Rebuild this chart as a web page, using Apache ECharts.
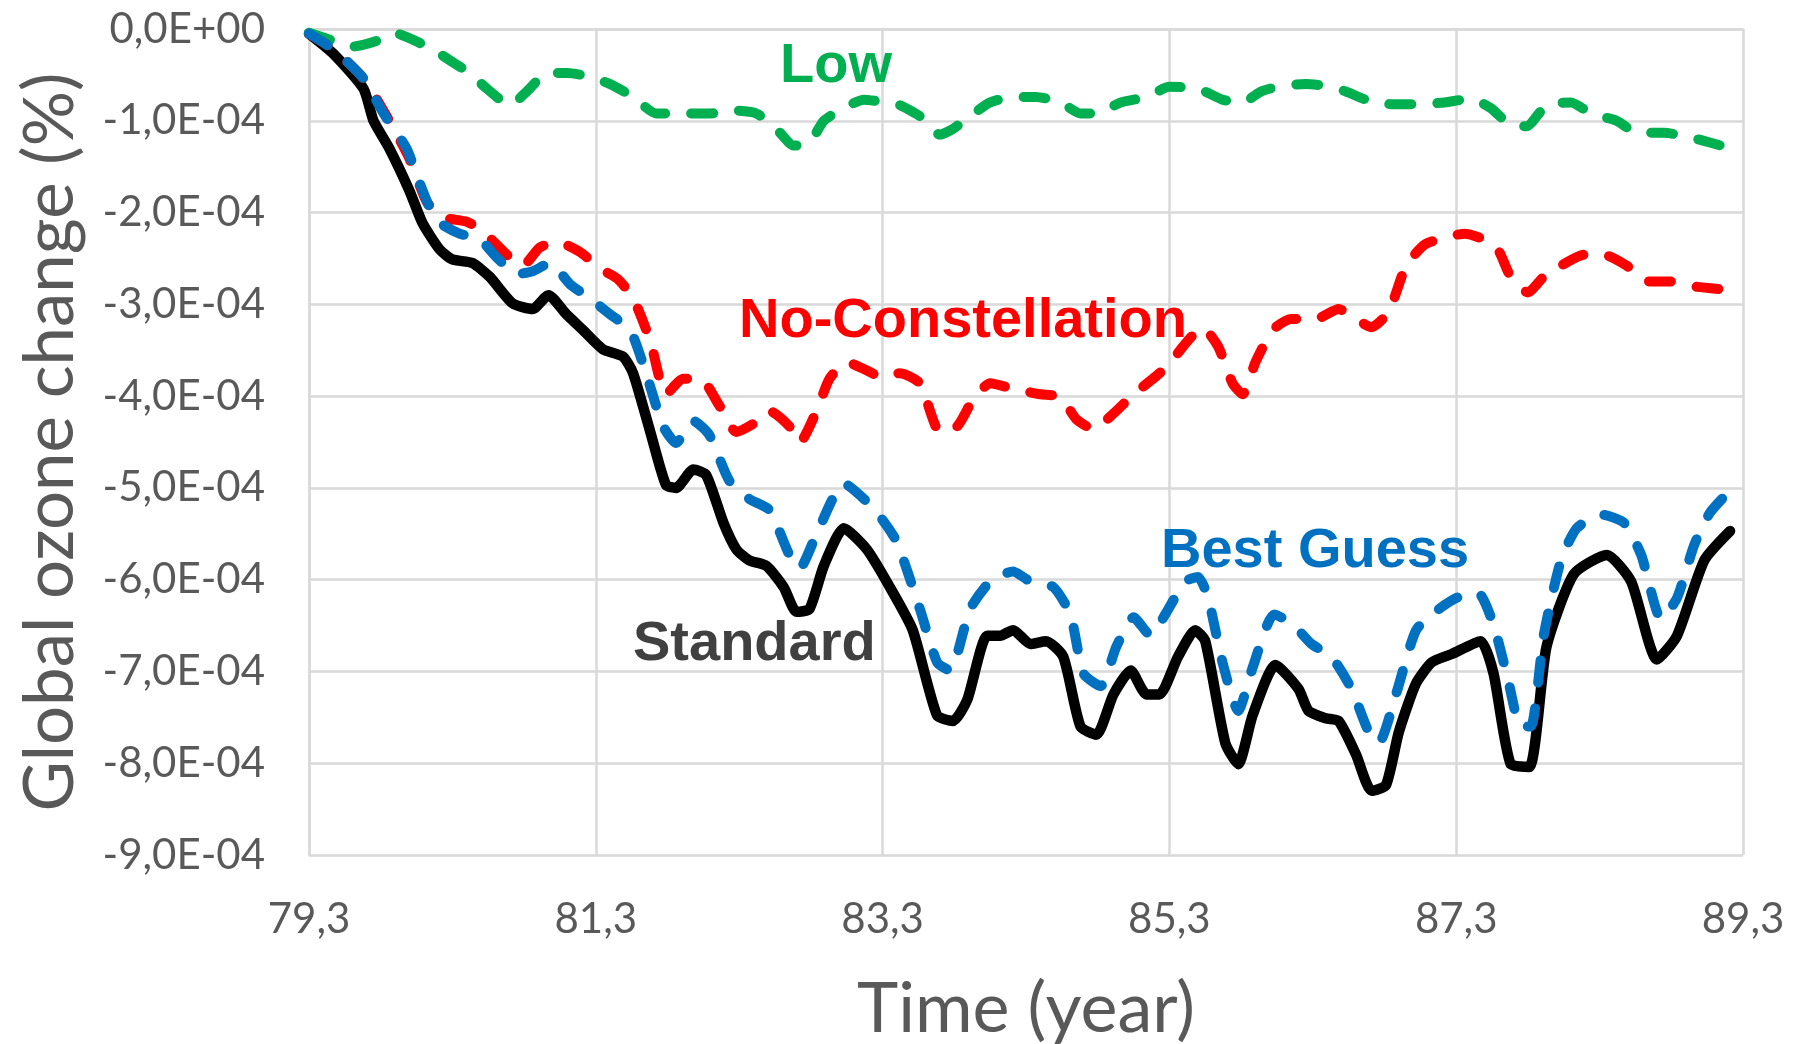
<!DOCTYPE html>
<html>
<head>
<meta charset="utf-8">
<script src="https://cdn.jsdelivr.net/npm/echarts@6/dist/echarts.min.js"></script>
<style>
html,body{margin:0;padding:0;background:#fff;}
#chart{width:1797px;height:1044px;}
</style>
</head>
<body>
<div id="chart"></div>
<script>
// ---- data (time in years, change in %) ----
const xTicks = [79.3, 81.3, 83.3, 85.3, 87.3, 89.3];

const standardT = [79.30,79.47,79.68,79.75,79.86,80.00,80.09,80.21,80.30,80.44,80.56,80.72,80.86,80.97,81.09,81.21,81.35,81.49,81.56,81.68,81.79,81.86,81.98,82.07,82.19,82.28,82.37,82.49,82.61,82.70,82.79,82.89,83.03,83.19,83.35,83.51,83.68,83.79,83.89,84.03,84.12,84.21,84.33,84.44,84.56,84.68,84.79,84.91,85.03,85.14,85.23,85.36,85.48,85.55,85.69,85.78,85.88,86.04,86.20,86.27,86.39,86.48,86.60,86.71,86.81,86.90,87.02,87.13,87.27,87.47,87.56,87.68,87.81,87.93,88.12,88.35,88.52,88.70,88.84,89.03,89.21];
const standardV = [-0.05e-4,-0.27e-4,-0.65e-4,-1.00e-4,-1.30e-4,-1.76e-4,-2.11e-4,-2.40e-4,-2.51e-4,-2.55e-4,-2.70e-4,-2.99e-4,-3.05e-4,-2.90e-4,-3.10e-4,-3.28e-4,-3.49e-4,-3.57e-4,-3.75e-4,-4.39e-4,-4.97e-4,-5.00e-4,-4.80e-4,-4.86e-4,-5.38e-4,-5.67e-4,-5.79e-4,-5.85e-4,-6.08e-4,-6.35e-4,-6.32e-4,-5.85e-4,-5.44e-4,-5.67e-4,-6.08e-4,-6.55e-4,-7.48e-4,-7.54e-4,-7.31e-4,-6.61e-4,-6.61e-4,-6.55e-4,-6.70e-4,-6.67e-4,-6.84e-4,-7.60e-4,-7.69e-4,-7.25e-4,-6.99e-4,-7.25e-4,-7.25e-4,-6.84e-4,-6.55e-4,-6.67e-4,-7.78e-4,-8.01e-4,-7.48e-4,-6.93e-4,-7.19e-4,-7.43e-4,-7.51e-4,-7.54e-4,-7.90e-4,-8.30e-4,-8.24e-4,-7.66e-4,-7.13e-4,-6.90e-4,-6.81e-4,-6.67e-4,-7.02e-4,-8.01e-4,-8.04e-4,-6.73e-4,-5.94e-4,-5.73e-4,-6.02e-4,-6.87e-4,-6.61e-4,-5.79e-4,-5.47e-4];

const bestT = [79.30,79.47,79.68,79.82,79.98,80.05,80.14,80.21,80.35,80.49,80.61,80.75,80.86,80.98,81.12,81.28,81.40,81.54,81.65,81.77,81.86,81.98,82.09,82.23,82.37,82.51,82.65,82.72,82.84,83.03,83.19,83.30,83.40,83.56,83.68,83.77,83.91,84.05,84.21,84.33,84.49,84.61,84.70,84.82,84.93,85.05,85.17,85.27,85.41,85.50,85.57,85.67,85.78,85.88,86.03,86.15,86.29,86.43,86.57,86.69,86.76,86.88,87.02,87.18,87.30,87.45,87.56,87.66,87.75,87.82,87.91,88.03,88.14,88.31,88.47,88.59,88.73,88.84,88.96,89.07,89.19];
const bestV = [-0.05e-4,-0.22e-4,-0.54e-4,-0.92e-4,-1.30e-4,-1.59e-4,-1.94e-4,-2.11e-4,-2.23e-4,-2.29e-4,-2.49e-4,-2.67e-4,-2.64e-4,-2.55e-4,-2.78e-4,-2.96e-4,-3.11e-4,-3.28e-4,-3.75e-4,-4.33e-4,-4.51e-4,-4.27e-4,-4.42e-4,-4.92e-4,-5.12e-4,-5.24e-4,-5.73e-4,-5.88e-4,-5.50e-4,-4.95e-4,-5.15e-4,-5.35e-4,-5.59e-4,-6.32e-4,-6.90e-4,-6.99e-4,-6.32e-4,-6.02e-4,-5.91e-4,-6.02e-4,-6.08e-4,-6.38e-4,-7.02e-4,-7.16e-4,-6.73e-4,-6.41e-4,-6.61e-4,-6.38e-4,-6.02e-4,-5.97e-4,-6.20e-4,-6.90e-4,-7.43e-4,-6.96e-4,-6.38e-4,-6.47e-4,-6.70e-4,-6.84e-4,-7.19e-4,-7.66e-4,-7.78e-4,-7.25e-4,-6.55e-4,-6.32e-4,-6.20e-4,-6.14e-4,-6.49e-4,-7.08e-4,-7.60e-4,-7.60e-4,-6.61e-4,-5.79e-4,-5.44e-4,-5.29e-4,-5.38e-4,-5.73e-4,-6.43e-4,-6.20e-4,-5.62e-4,-5.27e-4,-5.06e-4];

const noConT = [79.30,79.47,79.68,79.86,80.00,80.12,80.23,80.40,80.51,80.68,80.79,80.91,81.03,81.19,81.33,81.45,81.56,81.68,81.79,81.91,82.03,82.16,82.28,82.40,82.51,82.65,82.72,82.84,82.93,83.05,83.19,83.30,83.42,83.56,83.70,83.82,83.93,84.05,84.21,84.40,84.54,84.65,84.77,84.91,85.05,85.21,85.30,85.41,85.53,85.64,85.74,85.81,85.90,86.02,86.15,86.32,86.48,86.60,86.71,86.83,86.95,87.08,87.25,87.36,87.49,87.59,87.68,87.80,87.91,88.03,88.19,88.33,88.49,88.63,88.79,88.98,89.19];
const noConV = [-0.05e-4,-0.22e-4,-0.54e-4,-1.00e-4,-1.41e-4,-1.88e-4,-2.05e-4,-2.10e-4,-2.20e-4,-2.46e-4,-2.58e-4,-2.38e-4,-2.32e-4,-2.43e-4,-2.61e-4,-2.72e-4,-2.93e-4,-3.40e-4,-3.98e-4,-3.81e-4,-3.81e-4,-4.10e-4,-4.39e-4,-4.30e-4,-4.16e-4,-4.33e-4,-4.51e-4,-4.16e-4,-3.81e-4,-3.63e-4,-3.72e-4,-3.80e-4,-3.75e-4,-3.86e-4,-4.39e-4,-4.33e-4,-4.04e-4,-3.86e-4,-3.92e-4,-3.98e-4,-4.01e-4,-4.25e-4,-4.36e-4,-4.19e-4,-3.98e-4,-3.78e-4,-3.65e-4,-3.43e-4,-3.25e-4,-3.46e-4,-3.86e-4,-3.98e-4,-3.63e-4,-3.28e-4,-3.16e-4,-3.16e-4,-3.05e-4,-3.16e-4,-3.25e-4,-3.08e-4,-2.58e-4,-2.35e-4,-2.26e-4,-2.23e-4,-2.29e-4,-2.40e-4,-2.70e-4,-2.87e-4,-2.70e-4,-2.58e-4,-2.46e-4,-2.46e-4,-2.58e-4,-2.75e-4,-2.75e-4,-2.81e-4,-2.84e-4];

const lowT = [79.30,79.47,79.61,79.77,79.89,80.00,80.16,80.30,80.42,80.54,80.70,80.82,80.96,81.10,81.23,81.40,81.56,81.72,81.89,82.10,82.28,82.42,82.56,82.68,82.79,82.89,83.03,83.17,83.28,83.42,83.56,83.70,83.79,83.91,84.05,84.21,84.37,84.54,84.68,84.79,84.96,85.14,85.30,85.50,85.67,85.81,85.94,86.08,86.25,86.39,86.53,86.67,86.85,87.04,87.22,87.40,87.54,87.70,87.79,87.93,88.10,88.24,88.42,88.56,88.75,88.93,89.10,89.21];
const lowV = [-0.04e-4,-0.13e-4,-0.19e-4,-0.13e-4,-0.04e-4,-0.10e-4,-0.22e-4,-0.36e-4,-0.48e-4,-0.65e-4,-0.83e-4,-0.68e-4,-0.48e-4,-0.48e-4,-0.51e-4,-0.60e-4,-0.74e-4,-0.92e-4,-0.92e-4,-0.92e-4,-0.89e-4,-0.92e-4,-1.09e-4,-1.27e-4,-1.24e-4,-1.00e-4,-0.86e-4,-0.77e-4,-0.79e-4,-0.83e-4,-0.95e-4,-1.15e-4,-1.09e-4,-0.95e-4,-0.80e-4,-0.74e-4,-0.74e-4,-0.80e-4,-0.92e-4,-0.92e-4,-0.80e-4,-0.74e-4,-0.63e-4,-0.65e-4,-0.77e-4,-0.80e-4,-0.68e-4,-0.62e-4,-0.60e-4,-0.62e-4,-0.68e-4,-0.77e-4,-0.82e-4,-0.82e-4,-0.80e-4,-0.76e-4,-0.86e-4,-1.06e-4,-1.06e-4,-0.83e-4,-0.80e-4,-0.92e-4,-1.00e-4,-1.13e-4,-1.13e-4,-1.18e-4,-1.25e-4,-1.30e-4];

// ---- build ----
function pairs(t, v) { return t.map((x, i) => [x, v[i]]); }
function yFmt(v) {
  const m = Math.round(v * 1e5) / 10;
  if (m === 0) return '0,0E+00';
  return m.toFixed(1).replace('.', ',') + 'E-04';
}
const gridColor = '#d9d9d9';
const labelFont = { fontFamily: 'Lato', fontSize: 42, color: '#595959' };
const dash = [22, 26];

const chart = echarts.init(document.getElementById('chart'), null, { renderer: 'canvas' });
chart.setOption({
  animation: false,
  backgroundColor: '#ffffff',
  grid: { left: 309, right: 54, top: 29, bottom: 189, containLabel: false, outerBoundsMode: 'none' },
  xAxis: {
    type: 'value', min: 79.3, max: 89.3,
    name: 'Time (year)', nameLocation: 'middle', nameGap: 119,
    nameTextStyle: { fontFamily: 'Lato', fontSize: 70, color: '#595959' },
    axisLine: { show: true, lineStyle: { color: gridColor, width: 2.5 } },
    axisTick: { show: false, customValues: xTicks },
    splitLine: { show: true, lineStyle: { color: gridColor, width: 2.5 } },
    axisLabel: Object.assign({ customValues: xTicks, margin: 43,
      formatter: v => v.toFixed(1).replace('.', ',') }, labelFont)
  },
  yAxis: {
    type: 'value', min: -9e-4, max: 0, interval: 1e-4,
    name: 'Global ozone change (%)', nameLocation: 'middle', nameGap: 224,
    nameTextStyle: { fontFamily: 'Lato', fontSize: 69, color: '#595959' },
    axisLine: { show: true, lineStyle: { color: gridColor, width: 2.5 } },
    axisTick: { show: false },
    splitLine: { show: true, lineStyle: { color: gridColor, width: 2.5 } },
    axisLabel: Object.assign({ margin: 44, formatter: yFmt }, labelFont)
  },
  series: [
    { name: 'Standard', type: 'line', data: pairs(standardT, standardV), showSymbol: false, smooth: 0.2,
      lineStyle: { color: '#000000', width: 10.5, cap: 'round', join: 'round' }, z: 2 },
    { name: 'No-Constellation', type: 'line', data: pairs(noConT, noConV), showSymbol: false, smooth: 0.2,
      lineStyle: { color: '#ff0000', width: 10, type: dash, cap: 'round', join: 'round' }, z: 3 },
    { name: 'Low', type: 'line', data: pairs(lowT, lowV), showSymbol: false, smooth: 0.2,
      lineStyle: { color: '#00b050', width: 10, type: dash, cap: 'round', join: 'round' }, z: 3 },
    { name: 'Best Guess', type: 'line', data: pairs(bestT, bestV), showSymbol: false, smooth: 0.2,
      lineStyle: { color: '#0070c0', width: 10, type: dash, cap: 'round', join: 'round' }, z: 4 }
  ],
  graphic: [
    { type: 'text', left: 780, top: 39, z: 10, style: { text: 'Low', font: 'bold 56px "Liberation Sans"', fill: '#00b050' } },
    { type: 'text', left: 739, top: 294, z: 10, style: { text: 'No-Constellation', font: 'bold 56px "Liberation Sans"', fill: '#ff0000' } },
    { type: 'text', left: 1161, top: 524, z: 10, style: { text: 'Best Guess', font: 'bold 56px "Liberation Sans"', fill: '#0070c0' } },
    { type: 'text', left: 633, top: 617, z: 10, style: { text: 'Standard', font: 'bold 56px "Liberation Sans"', fill: '#404040' } }
  ]
});
</script>
</body>
</html>
